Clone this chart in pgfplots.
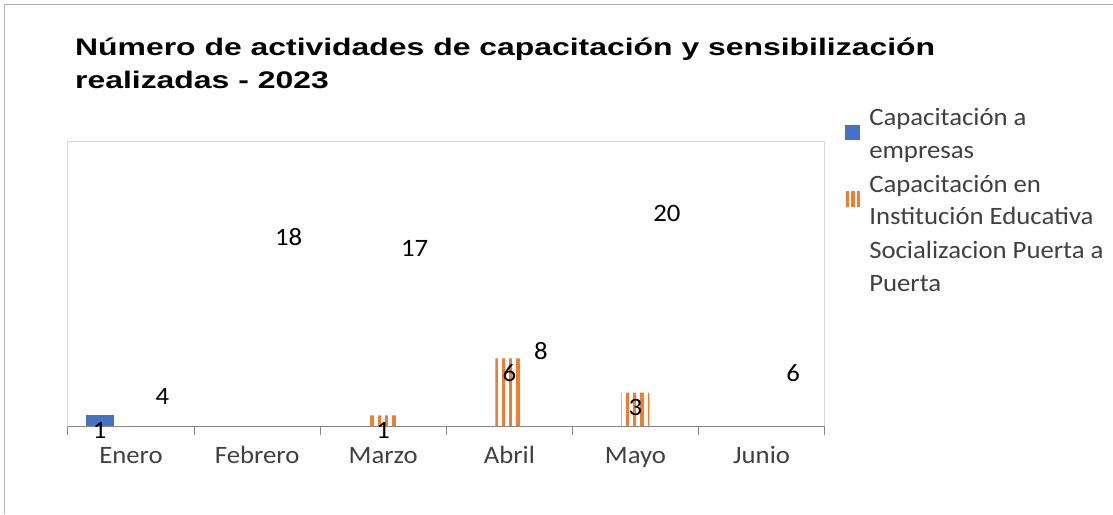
\documentclass[border=0pt]{standalone}
\usepackage{fontspec}
\setmainfont{Carlito}[FakeStretch=1.07]
\newfontfamily\titlefont{Liberation Sans}[FakeStretch=1.33]
\usepackage{pgfplots}
\pgfplotsset{compat=1.18}
\usetikzlibrary{patterns.meta}
\definecolor{cblue}{HTML}{4472C4}
\definecolor{corange}{HTML}{ED7D31}
\definecolor{framegray}{HTML}{D9D9D9}
\definecolor{axisgray}{HTML}{868686}
\definecolor{txtgray}{HTML}{404040}
\pgfplotsset{
  sqlegend/.style={legend image code/.code={\path[##1] (0pt,-6pt) rectangle (15pt,9pt);}},
  stripelegend/.style={legend image code/.code={
    \fill[corange] (1pt,-6pt) rectangle (4.5pt,10pt);
    \fill[corange] (6.5pt,-6pt) rectangle (10pt,10pt);
    \fill[corange] (12pt,-6pt) rectangle (15.5pt,10pt);}},
  nolegendimg/.style={legend image code/.code={}},
}
\begin{document}
\begin{tikzpicture}[x=1pt,y=1pt]
\path (0,0) rectangle (1113,514);
\draw[gray!60, line width=1pt] (5,0) -- (5,509) -- (1113,509);
\node[anchor=base west, inner sep=0, font=\titlefont\bfseries\fontsize{24}{30}\selectfont] at (75,458) {Número de actividades de capacitación y sensibilización};
\node[anchor=base west, inner sep=0, font=\titlefont\bfseries\fontsize{24}{30}\selectfont] at (75,425) {realizadas - 2023};
\begin{axis}[
  at={(68pt,87pt)}, anchor=south west,
  scale only axis, width=757pt, height=285pt,
  xmin=-0.5, xmax=5.5, ymin=0, ymax=25,
  ybar=3.5pt, bar width=28pt,
  /pgf/number format/assume math mode=true,
  ytick=\empty,
  xtick={0,...,5},
  xtick pos=lower,
  xticklabels={Enero,Febrero,Marzo,Abril,Mayo,Junio},
  major x tick style={draw=none},
  minor xtick={-0.5,0.5,...,5.5},
  minor x tick style={axisgray, line width=1pt},
  minor tick length=8pt,
  tick align=outside,
  xticklabel style={font=\fontsize{25}{30}\selectfont, text=txtgray, anchor=base, yshift=-32pt},
  axis line style={framegray, line width=1pt},
  clip=false,
  nodes near coords,
  every node near coord/.append style={anchor=center, yshift=-15pt, font=\fontsize{25}{30}\selectfont, text=black},
  legend style={draw=none, fill=none, at={(axis description cs:1,1)}, anchor=north west, xshift=20pt, yshift=36pt,
    font=\fontsize{25}{33}\selectfont, text=txtgray, cells={anchor=west, align=left}, row sep=11pt, column sep=7pt, inner sep=0pt},
]
\addplot[fill=cblue, draw=none, sqlegend] coordinates {(0,1)};
\addlegendentry{Capacitación a\\empresas}
\addplot[draw=none, pattern={Lines[angle=90,distance=7.3pt,line width=3.3pt]}, pattern color=corange, stripelegend] coordinates {(2,1) (3,6) (4,3)};
\addlegendentry{Capacitación en\\Institución Educativa}
\addplot[draw=none, fill=none, nolegendimg] coordinates {(0,4) (1,18) (2,17) (3,8) (4,20) (5,6)};
\addlegendentry{Socializacion Puerta a\\Puerta}
\draw[axisgray, line width=1pt] (rel axis cs:0,0) -- (rel axis cs:1,0);
\end{axis}
\end{tikzpicture}
\end{document}
